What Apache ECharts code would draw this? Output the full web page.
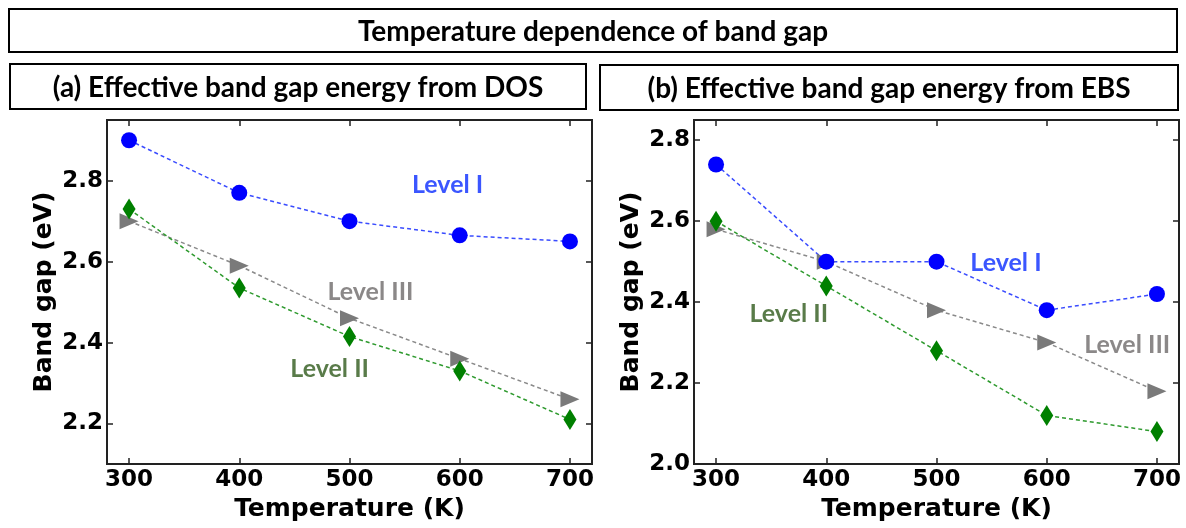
<!DOCTYPE html>
<html>
<head>
<meta charset="utf-8">
<script src="https://cdn.jsdelivr.net/npm/echarts@6/dist/echarts.min.js"></script>
<style>
  html, body { margin: 0; padding: 0; background: #fff; }
  #chart { width: 1186px; height: 528px; }
</style>
</head>
<body>
<div id="chart"></div>
<script>
// temperatures (K)
const temps = [300, 400, 500, 600, 700]
// (a) band gap from DOS (eV)
const dosLevel1 = [2.90, 2.77, 2.70, 2.665, 2.65]
const dosLevel2 = [2.73, 2.535, 2.415, 2.33, 2.21]
const dosLevel3 = [2.70, 2.59, 2.46, 2.36, 2.26]
// (b) band gap from EBS (eV)
const ebsLevel1 = [2.74, 2.50, 2.50, 2.38, 2.42]
const ebsLevel2 = [2.60, 2.44, 2.28, 2.12, 2.08]
const ebsLevel3 = [2.58, 2.50, 2.38, 2.30, 2.18]
// tick labels
const xTicks = [300, 400, 500, 600, 700]
const yTicksA = [2.2, 2.4, 2.6, 2.8]
const yTicksB = [2.0, 2.2, 2.4, 2.6, 2.8]
// text annotations [x, y, text]
const notesA = [[589, 2.79, 'Level I'], [482, 2.336, 'Level II'], [519, 2.524, 'Level III']]
const notesB = [[563, 2.496, 'Level I'], [366, 2.372, 'Level II'], [673, 2.295, 'Level III']]

const BLUE = '#0000ff'
const GREEN = '#008000'
const GRAY = '#7a7a7a'
const noteColors = { 'Level I': '#0a2cff', 'Level II': '#2f5a1c', 'Level III': '#6e6a6a' }
const tickFont = 'DejaVu Sans'
const hdrFont = 'Lato'

function zip(xs, ys) {
  return xs.map((x, i) => [x, ys[i]])
}

function xAxes(gi) {
  return [
    {
      type: 'value', gridIndex: gi, min: 280, max: 720, position: 'bottom',
      name: 'Temperature (K)', nameLocation: 'middle', nameGap: 30,
      nameTextStyle: { fontFamily: tickFont, fontWeight: 'bold', fontSize: 25, color: '#000' },
      axisLine: { show: false },
      splitLine: { show: false },
      axisTick: { inside: true, length: 6, customValues: xTicks, lineStyle: { color: '#222', width: 1.5 } },
      axisLabel: { customValues: xTicks, margin: 5, fontFamily: tickFont, fontWeight: 'bold', fontSize: 23, color: '#000' }
    },
    {
      type: 'value', gridIndex: gi, min: 280, max: 720, position: 'top',
      axisLine: { show: false },
      splitLine: { show: false },
      axisTick: { inside: true, length: 6, customValues: xTicks, lineStyle: { color: '#222', width: 1.5 } },
      axisLabel: { show: false }
    }
  ]
}

function yAxes(gi, min, max, ticks) {
  return [
    {
      type: 'value', gridIndex: gi, min: min, max: max, position: 'left',
      name: 'Band gap (eV)', nameLocation: 'middle', nameGap: 50,
      nameTextStyle: { fontFamily: tickFont, fontWeight: 'bold', fontSize: 25, color: '#000' },
      axisLine: { show: false },
      splitLine: { show: false },
      axisTick: { inside: true, length: 6, customValues: ticks, lineStyle: { color: '#222', width: 1.5 } },
      axisLabel: { customValues: ticks, margin: 4, fontFamily: tickFont, fontWeight: 'bold', fontSize: 23, color: '#000',
        formatter: v => v.toFixed(1) }
    },
    {
      type: 'value', gridIndex: gi, min: min, max: max, position: 'right',
      axisLine: { show: false },
      splitLine: { show: false },
      axisTick: { inside: true, length: 6, customValues: ticks, lineStyle: { color: '#222', width: 1.5 } },
      axisLabel: { show: false }
    }
  ]
}

function lineSeries(ai, data, color, lineColor, symbol, size, rotate) {
  return {
    type: 'line', xAxisIndex: ai, yAxisIndex: ai,
    data: zip(temps, data),
    symbol: symbol, symbolSize: size, symbolRotate: rotate || 0,
    itemStyle: { color: color },
    lineStyle: { color: lineColor, width: 1.5, type: [4, 3] },
    animation: false
  }
}

function noteSeries(ai, notes) {
  return {
    type: 'scatter', xAxisIndex: ai, yAxisIndex: ai,
    symbolSize: 0, silent: true, animation: false,
    data: notes.map(n => ({
      value: [n[0], n[1]],
      label: {
        show: true, position: 'inside', formatter: n[2],
        fontFamily: hdrFont, fontWeight: 'bold', fontSize: 25, color: noteColors[n[2]]
      }
    }))
  }
}

function box(x, y, w, h, text) {
  return [
    { type: 'rect', shape: { x: x, y: y, width: w, height: h },
      style: { fill: '#fff', stroke: '#000', lineWidth: 2 } },
    { type: 'text', x: x + w / 2, y: y + h / 2 + 1,
      style: { text: text, fill: '#000', font: 'bold 28px Lato', align: 'center', verticalAlign: 'middle' } }
  ]
}

var myChart = echarts.init(document.getElementById('chart'))
var option = {
  backgroundColor: '#fff',
  grid: [
    { left: 107, right: 594, top: 120, bottom: 64, show: true, borderColor: '#222', borderWidth: 2 },
    { left: 694, right: 7, top: 120, bottom: 64, show: true, borderColor: '#222', borderWidth: 2 }
  ],
  xAxis: [...xAxes(0), ...xAxes(1)],
  yAxis: [...yAxes(0, 2.1, 2.95, yTicksA), ...yAxes(1, 2.0, 2.85, yTicksB)],
  series: [
    lineSeries(0, dosLevel3, GRAY, '#8a8a8a', 'triangle', [16, 19], -90),
    lineSeries(0, dosLevel2, GREEN, '#2e9a2e', 'diamond', [13, 21]),
    lineSeries(0, dosLevel1, BLUE, '#3a4cff', 'circle', 16),
    noteSeries(0, notesA),
    lineSeries(2, ebsLevel3, GRAY, '#8a8a8a', 'triangle', [16, 19], -90),
    lineSeries(2, ebsLevel2, GREEN, '#2e9a2e', 'diamond', [13, 21]),
    lineSeries(2, ebsLevel1, BLUE, '#3a4cff', 'circle', 16),
    noteSeries(2, notesB)
  ],
  graphic: [
    ...box(9, 9, 1168, 43, 'Temperature dependence of band gap'),
    ...box(10, 64, 576, 45, '(a) Effective band gap energy from DOS'),
    ...box(600, 65, 578, 45, '(b) Effective band gap energy from EBS')
  ]
}
myChart.setOption(option)
</script>
</body>
</html>
